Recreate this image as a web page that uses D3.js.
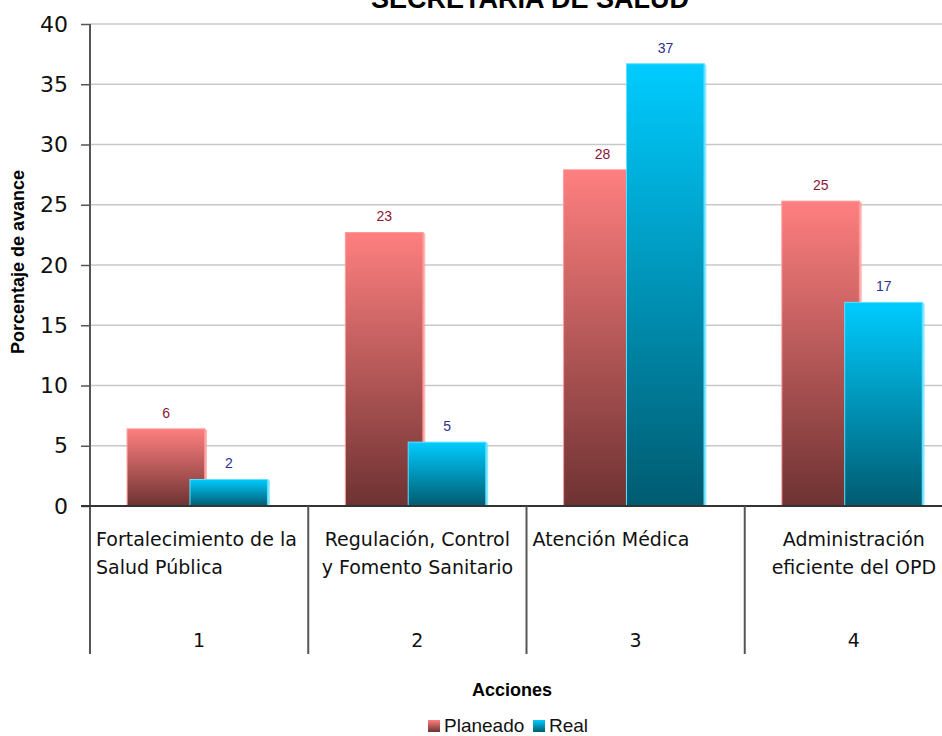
<!DOCTYPE html>
<html>
<head>
<meta charset="utf-8">
<script src="https://d3js.org/d3.v7.min.js"></script>
<style>
  body { margin: 0; background: #fff; }
  .tick text { font-family: "DejaVu Sans", sans-serif; }
</style>
</head>
<body>
<script>
// data
var categories = ["1", "2", "3", "4"];
var catLabels = [
  ["Fortalecimiento de la", "Salud Pública"],
  ["Regulación, Control", "y Fomento Sanitario"],
  ["Atención Médica"],
  ["Administración", "eficiente del OPD"]
];
var planeado = [6.4, 22.7, 27.9, 25.3];
var real = [2.2, 5.3, 36.7, 16.9];
var planeadoLbl = ["6", "23", "28", "25"];
var realLbl = ["2", "5", "37", "17"];
var yTicks = [0, 5, 10, 15, 20, 25, 30, 35, 40];
var seriesNames = ["Planeado", "Real"];

var W = 942, H = 736;
var plotL = 90, plotT = 24, plotB = 506, plotR = 963, axisEnd = 654;

var svg = d3.select("body").append("svg")
    .attr("width", W).attr("height", H);

var defs = svg.append("defs");
function grad(id, c1, c2) {
  var g = defs.append("linearGradient").attr("id", id)
      .attr("x1", 0).attr("y1", 0).attr("x2", 0).attr("y2", 1);
  g.append("stop").attr("offset", "0%").attr("stop-color", c1);
  g.append("stop").attr("offset", "100%").attr("stop-color", c2);
}
grad("gPlan", "#ff7f7f", "#6e3232");
grad("gReal", "#00ccff", "#005b70");

var x = d3.scaleBand().domain(categories).range([plotL, plotR]).padding(0);
var y = d3.scaleLinear().domain([0, 40]).range([plotB, plotT]);

// gridlines
svg.append("g").selectAll("line").data(yTicks.filter(function(d) { return d > 0; }))
  .enter().append("line")
    .attr("x1", plotL).attr("x2", W)
    .attr("y1", function(d) { return y(d); })
    .attr("y2", function(d) { return y(d); })
    .attr("stroke", "#c8c8c8").attr("stroke-width", 1.5);

// y axis
var yAxis = svg.append("g")
    .attr("transform", "translate(" + plotL + ",0)")
    .call(d3.axisLeft(y).tickValues(yTicks).tickSize(9).tickPadding(13));
yAxis.select(".domain").remove();
yAxis.selectAll(".tick line").attr("stroke", "#555").attr("stroke-width", 1.5);
yAxis.selectAll(".tick text").attr("font-size", 22).attr("fill", "#111");

svg.append("line")
    .attr("x1", plotL).attr("x2", plotL).attr("y1", plotT).attr("y2", axisEnd)
    .attr("stroke", "#555").attr("stroke-width", 2);

svg.append("text")
    .attr("transform", "translate(24,262) rotate(-90)")
    .attr("text-anchor", "middle")
    .style("font-family", "'Liberation Sans', Arial, sans-serif")
    .style("font-weight", "bold").style("font-size", "18px")
    .text("Porcentaje de avance");

// bars
var bw = x.bandwidth();
function drawBars(vals, lbls, off, fill, edge, lblColor) {
  var g = svg.append("g");
  g.selectAll("rect.bar").data(vals).enter().append("rect")
    .attr("x", function(d, i) { return x(categories[i]) + bw * off; })
    .attr("y", function(d) { return y(d); })
    .attr("width", bw * 0.357)
    .attr("height", function(d) { return plotB - y(d); })
    .attr("fill", "url(#" + fill + ")")
    .attr("stroke", edge).attr("stroke-width", 1);
  g.selectAll("rect.edge").data(vals).enter().append("rect")
    .attr("x", function(d, i) { return x(categories[i]) + bw * (off + 0.357) - 1; })
    .attr("y", function(d) { return y(d) + 1; })
    .attr("width", 3)
    .attr("height", function(d) { return plotB - y(d) - 1; })
    .attr("fill", edge).attr("opacity", 0.7);
  g.selectAll("text").data(vals).enter().append("text")
    .attr("x", function(d, i) { return x(categories[i]) + bw * (off + 0.357 / 2); })
    .attr("y", function(d) { return y(d) - 11; })
    .attr("text-anchor", "middle")
    .style("font-family", "'Liberation Sans', Arial, sans-serif")
    .style("font-size", "14px").attr("fill", lblColor)
    .text(function(d, i) { return lbls[i]; });
}
drawBars(planeado, planeadoLbl, 0.17, "gPlan", "#ff9a9a", "#8a1538");
drawBars(real, realLbl, 0.458, "gReal", "#5fe0ff", "#2e2e8f");

// x axis
svg.append("line")
    .attr("x1", plotL - 9).attr("x2", W).attr("y1", plotB).attr("y2", plotB)
    .attr("stroke", "#333").attr("stroke-width", 2);
svg.append("g").selectAll("line").data(categories.slice(1))
  .enter().append("line")
    .attr("x1", function(d) { return x(d); }).attr("x2", function(d) { return x(d); })
    .attr("y1", plotB).attr("y2", axisEnd)
    .attr("stroke", "#555").attr("stroke-width", 2);

var anchors = ["start", "middle", "start", "middle"];
var cl = svg.append("g")
    .style("font-family", "'DejaVu Sans', sans-serif")
    .style("font-size", "19px").attr("fill", "#111");
categories.forEach(function(c, i) {
  var ax = anchors[i] === "start" ? x(c) + 6 : x(c) + bw / 2;
  catLabels[i].forEach(function(t, j) {
    cl.append("text")
      .attr("x", ax).attr("y", 546 + j * 28)
      .attr("text-anchor", anchors[i])
      .text(t);
  });
  cl.append("text")
    .attr("x", x(c) + bw / 2).attr("y", 647)
    .attr("text-anchor", "middle")
    .text(c);
});

svg.append("text")
    .attr("x", 512).attr("y", 696)
    .attr("text-anchor", "middle")
    .style("font-family", "'Liberation Sans', Arial, sans-serif")
    .style("font-weight", "bold").style("font-size", "18px")
    .text("Acciones");

// title (cut at top)
svg.append("text")
    .attr("x", 530).attr("y", 8)
    .attr("text-anchor", "middle")
    .style("font-family", "'Liberation Sans', Arial, sans-serif")
    .style("font-weight", "bold").style("font-size", "27px")
    .text("SECRETARIA DE SALUD");

// legend
var legX = [428, 533];
var legFill = ["gPlan", "gReal"];
var leg = svg.append("g");
seriesNames.forEach(function(s, i) {
  leg.append("rect")
    .attr("x", legX[i]).attr("y", 720).attr("width", 12).attr("height", 12)
    .attr("fill", "url(#" + legFill[i] + ")");
  leg.append("text")
    .attr("x", legX[i] + 16).attr("y", 732)
    .style("font-family", "'Liberation Sans', Arial, sans-serif")
    .style("font-size", "19px").attr("fill", "#111")
    .text(s);
});
</script>
</body>
</html>
